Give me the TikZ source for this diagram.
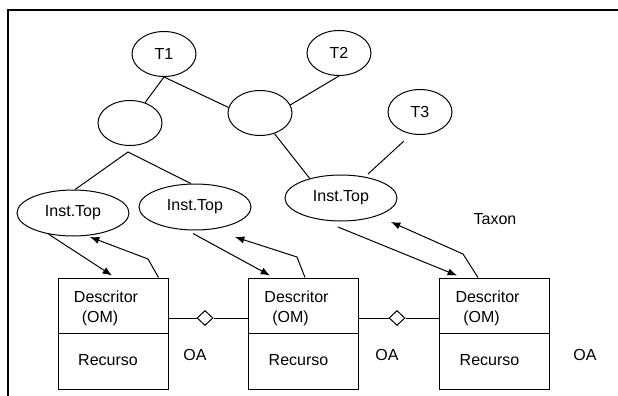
\documentclass[tikz,border=0pt]{standalone}
\usepackage{fontspec}
\setmainfont{Liberation Sans}
\usetikzlibrary{shapes.geometric,arrows.meta,calc}
\begin{document}
\begin{tikzpicture}[x=0.75pt,y=-0.75pt,
  txt/.style={font=\fontsize{12}{14}\selectfont, inner sep=0pt},
  ell/.style={draw, ellipse, line width=0.75pt, minimum width=48pt, minimum height=33.75pt, inner sep=0pt, font=\fontsize{12}{14}\selectfont},
  inst/.style={ell, minimum width=84pt, minimum height=34.5pt},
  umlbox/.style={draw, line width=0.75pt, minimum width=82.5pt, minimum height=83.25pt, inner sep=0pt},
  conn/.style={line width=0.75pt},
  arr/.style={conn, -{Latex[length=7pt,width=5.5pt]}},
  dia/.style={draw, diamond, fill=white, line width=0.75pt, minimum width=12pt, minimum height=11.25pt, inner sep=0pt}
]
\useasboundingbox (0,0) rectangle (618,396);
% frame
\draw[line width=1.1pt] (8,396) -- (8,10) -- (618,10);

% ellipses
\node[ell] (t1) at (164,54) {T1};
\node[ell] (e1) at (130,123) {};
\node[ell] (e2) at (260,113) {};
\node[ell] (t2) at (339,53) {T2};
\node[ell] (t3) at (420,112) {T3};
\node[inst] (i1) at (73,213) {Inst.Top};
\node[inst] (i2) at (195,207) {Inst.Top};
\node[inst] (i3) at (341,198) {Inst.Top};

% tree lines
\draw[conn] (t1.south) -- (e1);
\draw[conn] (t1.south) -- (e2.170);
\draw[conn] (e2.15) -- (t2.south);
\draw[conn] (e2.-55) -- (i3.148);
\draw[conn] ($(t3.center)+(-16,29)$) -- ($(i3.center)+(27,-24)$);
\coordinate (apex) at (128,152);
\draw[conn] (i1.85) -- (apex) -- (i2.100);

% boxes
\foreach \n/\x in {b1/113, b2/303.5, b3/494.5}{
  \node[umlbox] (\n) at (\x,333.5) {};
  \draw[conn] (\n.west) -- (\n.east);
  \node[txt] (\n d) at ($(\n.center)+(-7,-36.5)$) {Descritor};
  \node[txt] (\n o) at ($(\n.center)+(-13,-15.5)$) {(OM)};
  \node[txt] (\n r) at ($(\n.center)+(-5,26.5)$) {Recurso};
}

% aggregation connectors
\node[dia] (d1) at (205,318) {};
\node[dia] (d2) at (397,318) {};
\draw[conn] ($(b1.east)+(0,-15.5)$) -- (d1.west);
\draw[conn] (d1.east) -- ($(b2.west)+(0,-15.5)$);
\draw[conn] ($(b2.east)+(0,-15.5)$) -- (d2.west);
\draw[conn] (d2.east) -- ($(b3.west)+(0,-15.5)$);

% arrows
\draw[arr] (i1.221) -- ($(b1.north)+(-1,-2)$);
\coordinate (r1) at (148,259);
\coordinate (r1t) at (90,237);
\draw[arr] ($(b1.north east)+(-10,0)$) -- (r1) -- (r1t);

\draw[arr] ($(i2.south)+(-2,3)$) -- ($(b2.north)+(-33.5,-2)$);
\coordinate (r2) at (297,257);
\coordinate (r2t) at (235,237);
\draw[arr] ($(b2.north)+(1.5,0)$) -- (r2) -- (r2t);

\draw[arr] ($(i3.south)+(-3,5.5)$) -- ($(b3.north)+(-37.5,-2)$);
\coordinate (r3) at (463,254);
\coordinate (r3t) at (391,222);
\draw[arr] ($(b3.north)+(-16.5,0)$) -- (r3) -- (r3t);

% labels
\node[txt] (oa1) at (195,355) {OA};
\node[txt] (oa2) at (387,355) {OA};
\node[txt] (oa3) at (585,355) {OA};
\node[txt] (taxon) at (495,219) {Taxon};
\end{tikzpicture}
\end{document}
